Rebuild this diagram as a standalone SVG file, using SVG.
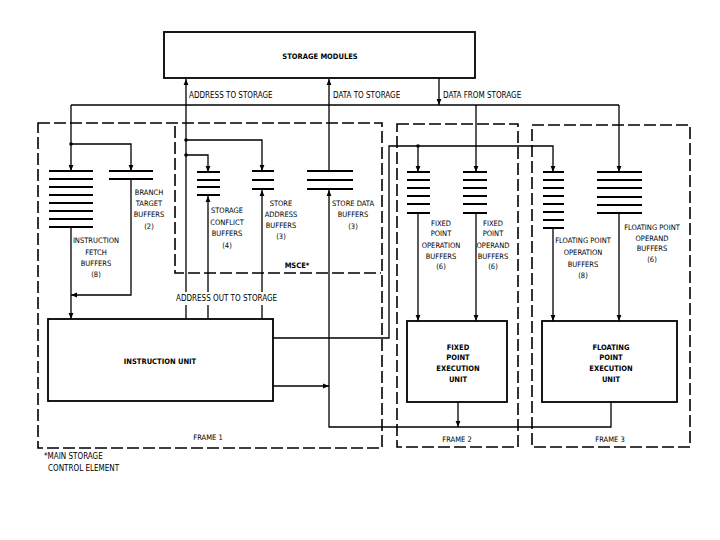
<svg xmlns="http://www.w3.org/2000/svg" width="720" height="540" viewBox="0 0 720 540">
<defs>
<marker id="ah" viewBox="0 0 10 10" refX="10" refY="5" markerWidth="6" markerHeight="6" orient="auto" markerUnits="userSpaceOnUse">
<path d="M0,1 L10,5 L0,9 z" fill="#000"/>
</marker>
<style>
.box{fill:#fff;stroke:#000;stroke-width:1.8}
.frame{fill:none;stroke:#000;stroke-width:1.6;stroke-dasharray:12 4}
.ln{fill:none;stroke:#000;stroke-width:1.3}
.ar{fill:none;stroke:#000;stroke-width:1.3;marker-end:url(#ah)}
.bl{stroke:#000;stroke-width:2}
.t{font-family:"DejaVu Sans Condensed","Liberation Sans Narrow","Liberation Sans",sans-serif;font-size:7.5px;fill:#000;text-anchor:middle}
.f{font-family:"DejaVu Sans Condensed","Liberation Sans Narrow","Liberation Sans",sans-serif;font-size:8px;fill:#000}
.b{font-weight:bold}
</style>
</defs>
<rect width="720" height="540" fill="#fff"/>

<g id="frames">
<rect id="frame1" class="frame" x="38" y="123" width="344" height="325"/>
<path id="msce" class="frame" d="M175,126 V273 H381"/>
<rect id="frame2" class="frame" x="397" y="124" width="121" height="323"/>
<rect id="frame3" class="frame" x="532" y="125" width="158" height="322"/>
<text class="t" x="208" y="440">FRAME 1</text>
<text class="t" x="457" y="442">FRAME 2</text>
<text class="t" x="610" y="442">FRAME 3</text>
<text class="t b" x="297" y="268">MSCE*</text>
<text class="f" x="44" y="459" font-size="7.5">*MAIN STORAGE</text>
<text class="f" x="48" y="471" font-size="7.5">CONTROL ELEMENT</text>
</g>

<g id="connectors">
<path class="ln" d="M71,105 H619"/>
<path class="ar" d="M439,78 V105"/>
<path class="ar" d="M186,292 V79"/>
<path class="ln" d="M186,305 V319"/>
<path class="ar" d="M186,140 H262 V171"/>
<path class="ar" d="M186,155 H208 V172"/>
<path class="ln" d="M208,305 V319"/>
<path class="ar" d="M208,292 V196"/>
<path class="ln" d="M262,305 V319"/>
<path class="ar" d="M262,292 V190"/>
<path class="ar" d="M329,171 V79"/>
<path class="ar" d="M611,402 V427 H329 V190"/>
<path class="ar" d="M458,402 V427"/>
<path class="ar" d="M273,386 H329"/>
<path class="ar" d="M273,338 H389 V146 H553 V172"/>
<path class="ar" d="M418,146 V172"/>
<path class="ar" d="M71,105 V171"/>
<path class="ar" d="M71,144 H131 V171"/>
<path class="ar" d="M71,227 V319"/>
<path class="ar" d="M131,179 V295 H71"/>
<path class="ar" d="M476,105 V172"/>
<path class="ar" d="M619,105 V172"/>
<path class="ar" d="M418,213 V321"/>
<path class="ar" d="M476,213 V321"/>
<path class="ar" d="M553,228 V321"/>
<path class="ar" d="M619,213 V321"/>
<circle cx="71" cy="144" r="1.8"/>
<circle cx="186" cy="140" r="1.8"/>
<circle cx="186" cy="155" r="1.8"/>
<circle cx="418" cy="146" r="1.8"/>
<text class="f" x="189" y="98">ADDRESS TO STORAGE</text>
<text class="f" x="333" y="98">DATA TO STORAGE</text>
<text class="f" x="443" y="98">DATA FROM STORAGE</text>
<text class="f" x="176" y="301">ADDRESS OUT TO STORAGE</text>
</g>

<g id="storage-modules">
<rect class="box" x="164" y="32" width="311" height="46"/>
<text class="t b" x="320" y="59" font-size="8">STORAGE MODULES</text>
</g>

<g id="instruction-fetch-buffers">
<path class="bl" d="M49,171 H93 M49,179 H93 M49,187 H93 M49,195 H93 M49,203 H93 M49,211 H93 M49,219 H93 M49,227 H93"/>
<text class="t"><tspan x="96" y="243">INSTRUCTION</tspan><tspan x="96" y="255">FETCH</tspan><tspan x="96" y="266">BUFFERS</tspan><tspan x="96" y="277">(8)</tspan></text>
</g>

<g id="branch-target-buffers">
<path class="bl" d="M109,171 H153 M109,179 H153"/>
<text class="t"><tspan x="149" y="195">BRANCH</tspan><tspan x="149" y="206">TARGET</tspan><tspan x="149" y="217">BUFFERS</tspan><tspan x="149" y="229">(2)</tspan></text>
</g>

<g id="storage-conflict-buffers">
<path class="bl" d="M197,172 H220 M197,180 H220 M197,187 H220 M197,195 H220"/>
<text class="t"><tspan x="227" y="213">STORAGE</tspan><tspan x="227" y="225">CONFLICT</tspan><tspan x="227" y="236">BUFFERS</tspan><tspan x="227" y="248">(4)</tspan></text>
</g>

<g id="store-address-buffers">
<path class="bl" d="M252,171 H274 M252,180 H274 M252,189 H274"/>
<text class="t"><tspan x="281" y="206">STORE</tspan><tspan x="281" y="217">ADDRESS</tspan><tspan x="281" y="228">BUFFERS</tspan><tspan x="281" y="239">(3)</tspan></text>
</g>

<g id="store-data-buffers">
<path class="bl" d="M307,171 H353 M307,180 H353 M307,189 H353"/>
<text class="t"><tspan x="353" y="206">STORE DATA</tspan><tspan x="353" y="217">BUFFERS</tspan><tspan x="353" y="229">(3)</tspan></text>
</g>

<g id="instruction-unit">
<rect class="box" x="48" y="319" width="225" height="82"/>
<text class="t b" x="160" y="364" font-size="8">INSTRUCTION UNIT</text>
</g>

<g id="fixed-point-operation-buffers">
<path class="bl" d="M407,172 H430 M407,180 H430 M407,188 H430 M407,196 H430 M407,204 H430 M407,213 H430"/>
<text class="t"><tspan x="441" y="226">FIXED</tspan><tspan x="441" y="236">POINT</tspan><tspan x="441" y="248">OPERATION</tspan><tspan x="441" y="259">BUFFERS</tspan><tspan x="441" y="269">(6)</tspan></text>
</g>

<g id="fixed-point-operand-buffers">
<path class="bl" d="M463,172 H487 M463,180 H487 M463,188 H487 M463,196 H487 M463,204 H487 M463,213 H487"/>
<text class="t"><tspan x="493" y="226">FIXED</tspan><tspan x="493" y="236">POINT</tspan><tspan x="493" y="248">OPERAND</tspan><tspan x="493" y="259">BUFFERS</tspan><tspan x="493" y="269">(6)</tspan></text>
</g>

<g id="fixed-point-execution-unit">
<rect class="box" x="407" y="321" width="100" height="81"/>
<text class="t b"><tspan x="458" y="350">FIXED</tspan><tspan x="458" y="360">POINT</tspan><tspan x="458" y="371">EXECUTION</tspan><tspan x="458" y="382">UNIT</tspan></text>
</g>

<g id="floating-point-operation-buffers">
<path class="bl" d="M543,172 H564 M543,180 H564 M543,188 H564 M543,196 H564 M543,204 H564 M543,212 H564 M543,220 H564 M543,228 H564"/>
<text class="t"><tspan x="583" y="243">FLOATING POINT</tspan><tspan x="583" y="255">OPERATION</tspan><tspan x="583" y="267">BUFFERS</tspan><tspan x="583" y="278">(8)</tspan></text>
</g>

<g id="floating-point-operand-buffers">
<path class="bl" d="M597,172 H642 M597,180 H642 M597,188 H642 M597,197 H642 M597,205 H642 M597,213 H642"/>
<text class="t"><tspan x="652" y="230">FLOATING POINT</tspan><tspan x="652" y="241">OPERAND</tspan><tspan x="652" y="251">BUFFERS</tspan><tspan x="652" y="262">(6)</tspan></text>
</g>

<g id="floating-point-execution-unit">
<rect class="box" x="542" y="321" width="135" height="81"/>
<text class="t b"><tspan x="611" y="350">FLOATING</tspan><tspan x="611" y="360">POINT</tspan><tspan x="611" y="371">EXECUTION</tspan><tspan x="611" y="382">UNIT</tspan></text>
</g>
</svg>
